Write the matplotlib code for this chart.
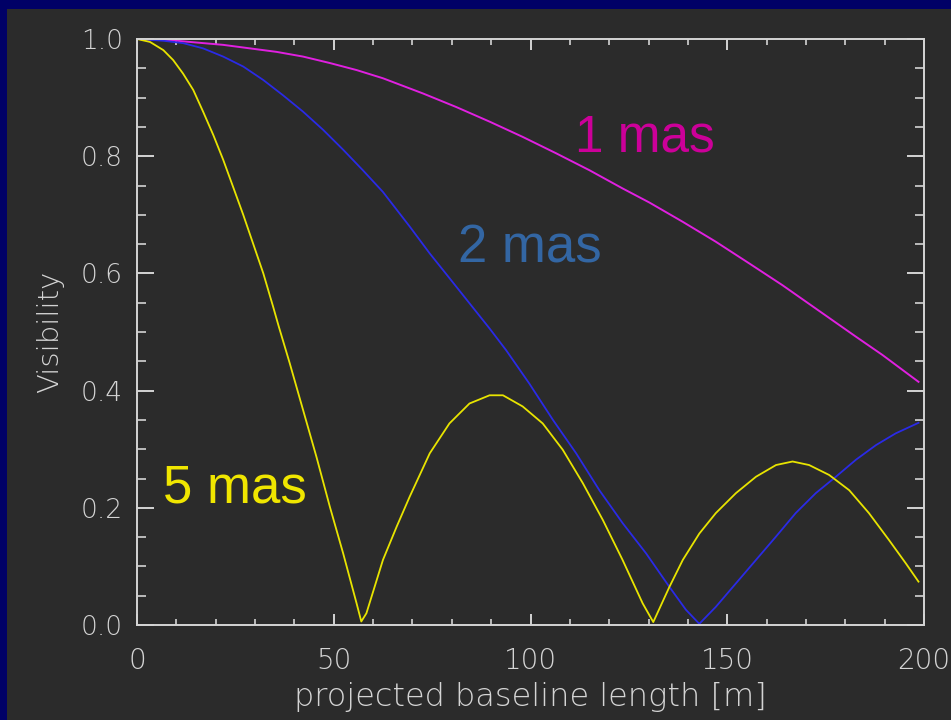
import matplotlib.pyplot as plt
from matplotlib.patches import Rectangle

# baseline [m] and visibility, one list pair per disk size
b_1mas = [0, 8.4, 15.1, 21.9, 28.7, 35.5, 42.2, 49.0, 55.8, 62.5, 72.7, 81.1, 89.6,
          98.0, 106.5, 115.0, 123.4, 130.2, 138.7, 147.1, 155.6, 164.0, 172.5,
          179.3, 182.7, 189.4, 198.6]
v_1mas = [1.0, 0.998, 0.994, 0.990, 0.984, 0.978, 0.970, 0.959, 0.947, 0.933, 0.907,
          0.884, 0.859, 0.833, 0.805, 0.776, 0.745, 0.721, 0.688, 0.654, 0.617,
          0.580, 0.540, 0.508, 0.492, 0.461, 0.415]

b_2mas = [0, 6.7, 11.7, 16.8, 21.9, 27.0, 32.1, 37.1, 42.2, 47.3, 52.4, 57.4, 62.5,
          69.3, 74.4, 79.4, 84.5, 89.6, 93.8, 99.7, 105.7, 111.6, 117.5, 123.4,
          129.4, 135.3, 139.5, 142.9, 147.1, 152.2, 157.3, 162.4, 167.4, 172.5,
          177.6, 182.7, 187.8, 192.8, 198.6]
v_2mas = [1.0, 0.997, 0.993, 0.984, 0.970, 0.953, 0.930, 0.904, 0.876, 0.845, 0.811,
          0.776, 0.739, 0.680, 0.634, 0.592, 0.549, 0.506, 0.469, 0.412, 0.350,
          0.293, 0.230, 0.174, 0.122, 0.065, 0.026, 0.002, 0.031, 0.071, 0.111,
          0.151, 0.191, 0.225, 0.253, 0.282, 0.307, 0.327, 0.345]

b_5mas = [0, 3.3, 6.7, 9.2, 11.7, 14.3, 16.8, 19.4, 21.9, 24.4, 27.0, 29.5, 32.1,
          34.6, 36.0, 38.8, 42.2, 45.6, 49.0, 52.4, 55.8, 57.0, 58.3, 62.5, 66.0,
          69.3, 74.4, 79.4, 84.5, 89.6, 93.0, 98.0, 103.1, 108.2, 113.3, 118.4,
          123.4, 128.5, 131.2, 135.3, 138.7, 142.9, 147.1, 152.2, 157.3, 162.4,
          166.6, 170.8, 175.9, 181.0, 186.0, 191.1, 195.4, 198.6]
v_5mas = [1.0, 0.995, 0.981, 0.964, 0.941, 0.913, 0.876, 0.836, 0.794, 0.748, 0.700,
          0.651, 0.600, 0.543, 0.510, 0.447, 0.367, 0.287, 0.202, 0.122, 0.037,
          0.006, 0.020, 0.111, 0.168, 0.219, 0.293, 0.344, 0.378, 0.392, 0.392,
          0.373, 0.344, 0.299, 0.242, 0.179, 0.111, 0.037, 0.005, 0.065, 0.111,
          0.156, 0.191, 0.225, 0.253, 0.273, 0.279, 0.273, 0.256, 0.230, 0.191,
          0.145, 0.105, 0.074]

labels = ["1 mas", "2 mas", "5 mas"]

BG = "#2b2b2b"
NAVY = "#000066"
FG = "#d4d4d4"

plt.rcParams['font.family'] = ['DejaVu Sans']

fig = plt.figure(figsize=(9.51, 7.2), dpi=100, facecolor=BG)
# navy frame strips along the top and left edges
fig.patches.append(Rectangle((0, 0), 7 / 951, 1, transform=fig.transFigure,
                             facecolor=NAVY, edgecolor='none', zorder=0))
fig.patches.append(Rectangle((0, 1 - 9 / 720), 1, 9 / 720, transform=fig.transFigure,
                             facecolor=NAVY, edgecolor='none', zorder=0))

ax = fig.add_axes([137 / 951, 95 / 720, 787 / 951, 586 / 720])
ax.set_facecolor(BG)

ax.plot(b_1mas, v_1mas, color="#e020e0", lw=1.4)
ax.plot(b_2mas, v_2mas, color="#2a2ae6", lw=1.3)
ax.plot(b_5mas, v_5mas, color="#e8e400", lw=1.3)

ax.text(111.2, 0.808, labels[0], color="#cc0099", fontsize=37,
        family=['Liberation Sans'], ha='left', va='baseline')
ax.text(81.5, 0.618, labels[1], color="#3366a3", fontsize=38,
        family=['Liberation Sans'], ha='left', va='baseline')
ax.text(6.7, 0.209, labels[2], color="#f0e600", fontsize=38,
        family=['Liberation Sans'], ha='left', va='baseline')

ax.set_xlim(0, 200)
ax.set_ylim(0, 1.0)
ax.set_xticks([0, 50, 100, 150, 200])
ax.set_xticks(range(0, 201, 10), minor=True)
ax.set_yticks([0, 0.2, 0.4, 0.6, 0.8, 1.0])
ax.set_yticks([i * 0.05 for i in range(21)], minor=True)
ax.set_xticklabels(["0", "50", "100", "150", "200"])
ax.set_yticklabels(["0.0", "0.2", "0.4", "0.6", "0.8", "1.0"])

for s in ax.spines.values():
    s.set_color(FG)
    s.set_linewidth(1.4)

ax.tick_params(axis='x', which='major', direction='in', length=8, width=1.4,
               color=FG, top=True, pad=16, labelsize=20, labelcolor=FG)
ax.tick_params(axis='x', which='minor', direction='in', length=4, width=1.2,
               color=FG, top=True)
ax.tick_params(axis='y', which='major', direction='in', length=12, width=1.4,
               color=FG, right=True, pad=10, labelsize=19, labelcolor=FG)
ax.tick_params(axis='y', which='minor', direction='in', length=6.5, width=1.2,
               color=FG, right=True)
for lab in ax.get_xticklabels() + ax.get_yticklabels():
    lab.set_fontweight('light')

ax.set_xlabel("projected baseline length [m]", color=FG, fontsize=23,
              fontweight='light', labelpad=5)
ax.set_ylabel("Visibility", color=FG, fontsize=21, fontweight='light', labelpad=12)

fig.savefig("out.png", dpi=100, facecolor=BG)
